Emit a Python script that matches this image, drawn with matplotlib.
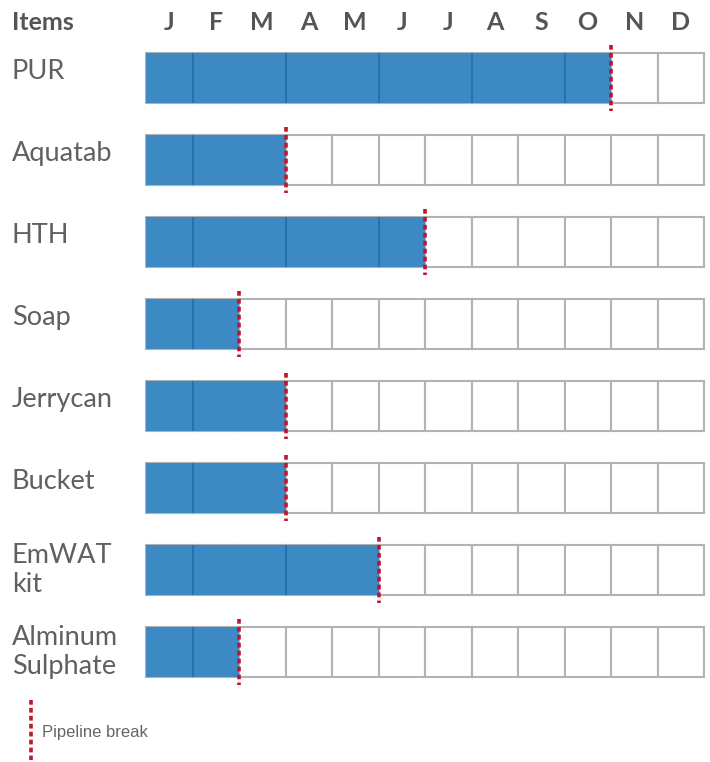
import matplotlib
matplotlib.use("Agg")
import matplotlib.pyplot as plt
import matplotlib.transforms as mtransforms
from matplotlib.lines import Line2D
from matplotlib.patches import Rectangle

# 数据
items = ["PUR", "Aquatab", "HTH", "Soap", "Jerrycan", "Bucket", "EmWAT\nkit", "Alminum\nSulphate"]
months = ["J", "F", "M", "A", "M", "J", "J", "A", "S", "O", "N", "D"]
covered_months = [10, 3, 6, 2, 3, 3, 5, 2]   # 断货点（月数）
segment_edges = [1, 3, 5, 7, 9]              # 蓝色分段线所在位置

blue = "#3d89c3"
blue_edge = "#1f6db3"
grey = "#b3b3b3"
red = "#c0132c"
text_grey = "#555555"

plt.rcParams['font.family'] = ['Lato', 'DejaVu Sans']

fig = plt.figure(figsize=(7.1, 7.62), dpi=100)
W, H = 710, 762
x0, x1 = 146, 704
y_top, y_bot = 53, 677
pitch = 82
bar_h = 50 / pitch
n_rows = len(items)

ax = fig.add_axes([x0 / W, 1 - y_bot / H, (x1 - x0) / W, (y_bot - y_top) / H])
ax.set_xlim(0, 12)
ax.set_ylim(n_rows - 1 + bar_h, 0)
ax.axis("off")

for i, n in enumerate(covered_months):
    # 月份格子
    for m in range(len(months)):
        ax.add_patch(Rectangle((m, i), 1, bar_h, facecolor="white",
                               edgecolor=grey, linewidth=1.5, clip_on=False))
    # 蓝色覆盖
    ax.barh(i, n, height=bar_h, left=0, align="edge", color=blue, linewidth=0)
    for e in segment_edges:
        if e < n:
            ax.vlines(e, i, i + bar_h, color=blue_edge, linewidth=1.2)
    # 断货线
    ax.vlines(n, i - 0.1, i + bar_h + 0.1, color=red, linewidth=2.6,
              linestyles=(0, (1.3, 0.9)), clip_on=False)

# 表头
trans = mtransforms.blended_transform_factory(fig.transFigure, ax.transData)
head_y = (22 - y_top) / pitch
ax.text(12 / W, head_y, "Items", transform=trans, ha="left", va="center",
        fontsize=18, fontweight="bold", color=text_grey)
for m, lab in enumerate(months):
    ax.text(m + 0.5, head_y, lab, ha="center", va="center", fontsize=18,
            fontweight="bold", color=text_grey, clip_on=False)

# 行标签
for i, lab in enumerate(items):
    if "\n" in lab:
        yy = i + bar_h / 2
    else:
        yy = i + bar_h / 2 - 0.08
    ax.text(12 / W, yy, lab, transform=trans, ha="left", va="center",
            fontsize=19.5, color="#606060", linespacing=1.2)

# 图例
fig.add_artist(Line2D([31 / W, 31 / W], [1 - 700 / H, 1 - 760 / H],
                      transform=fig.transFigure, color=red, linewidth=2.6,
                      linestyle=(0, (1.3, 0.9))))
fig.text(42 / W, 1 - 732 / H, "Pipeline break", ha="left", va="center",
         fontsize=12, color="#666666", family=["Liberation Sans", "DejaVu Sans"])

fig.savefig("out.png", dpi=100)
